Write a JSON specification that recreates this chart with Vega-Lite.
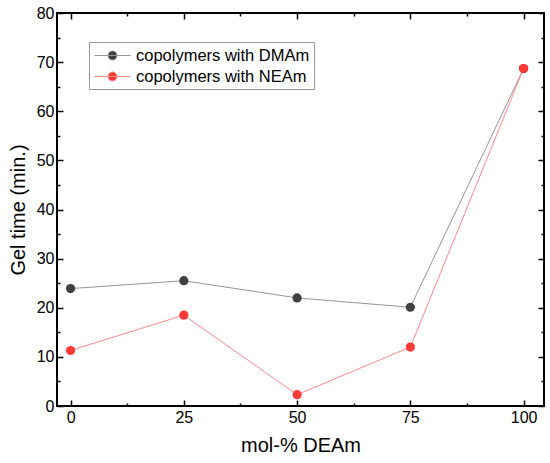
{
  "$schema": "https://vega.github.io/schema/vega-lite/v6.json",
  "description": "Gel time vs mol-% DEAm for copolymers with DMAm and NEAm",
  "width": 487,
  "height": 393,
  "autosize": "none",
  "padding": {"left": 57, "top": 13, "right": 6, "bottom": 57},
  "background": "white",
  "data": {
    "values": [
      {"mol": 0, "gel": 23.9, "series": "copolymers with DMAm"},
      {"mol": 25, "gel": 25.5, "series": "copolymers with DMAm"},
      {"mol": 50, "gel": 22.0, "series": "copolymers with DMAm"},
      {"mol": 75, "gel": 20.1, "series": "copolymers with DMAm"},
      {"mol": 100, "gel": 68.7, "series": "copolymers with DMAm"},
      {"mol": 0, "gel": 11.3, "series": "copolymers with NEAm"},
      {"mol": 25, "gel": 18.5, "series": "copolymers with NEAm"},
      {"mol": 50, "gel": 2.3, "series": "copolymers with NEAm"},
      {"mol": 75, "gel": 12.0, "series": "copolymers with NEAm"},
      {"mol": 100, "gel": 68.7, "series": "copolymers with NEAm"}
    ]
  },
  "layer": [
    {
      "mark": {"type": "line", "strokeWidth": 1},
      "encoding": {
        "x": {
          "field": "mol", "type": "quantitative",
          "scale": {"domain": [-3, 104.5], "nice": false, "zero": false},
          "axis": {"orient": "bottom", "values": [0, 25, 50, 75, 100], "tickSize": -6, "labelPadding": 9, "titlePadding": 10, "title": "mol-% DEAm"}
        },
        "y": {
          "field": "gel", "type": "quantitative",
          "scale": {"domain": [0, 80], "nice": false},
          "axis": {"orient": "left", "values": [0, 10, 20, 30, 40, 50, 60, 70, 80], "tickSize": -6, "labelPadding": 9, "titlePadding": 8, "title": "Gel time (min.)"}
        },
        "stroke": {
          "field": "series", "type": "nominal",
          "scale": {"domain": ["copolymers with DMAm", "copolymers with NEAm"], "range": ["#959595", "#ff8a8a"]},
          "legend": {
            "title": null, "orient": "none", "legendX": 32, "legendY": 29,
            "symbolType": "M-2,0H2M-0.5,0A0.5,0.5,0,1,1,0.5,0A0.5,0.5,0,1,1,-0.5,0Z",
            "symbolSize": 324, "symbolStrokeWidth": 1, "symbolOffset": 10,
            "labelFont": "Liberation Sans", "labelFontSize": 16.5, "labelLimit": 300, "labelOffset": 14,
            "strokeColor": "#999999", "fillColor": "white", "padding": 4, "rowPadding": 3
          }
        }
      }
    },
    {
      "mark": {"type": "point", "filled": true, "size": 85, "opacity": 1},
      "encoding": {
        "x": {
          "field": "mol", "type": "quantitative",
          "axis": {"orient": "top", "values": [0, 25, 50, 75, 100], "tickSize": -6, "labels": false, "title": null}
        },
        "y": {
          "field": "gel", "type": "quantitative",
          "axis": {"orient": "right", "values": [0, 10, 20, 30, 40, 50, 60, 70, 80], "tickSize": -6, "labels": false, "title": null}
        },
        "fill": {
          "field": "series", "type": "nominal",
          "scale": {"domain": ["copolymers with DMAm", "copolymers with NEAm"], "range": ["#404040", "#ff3838"]},
          "legend": {
            "title": null, "orient": "none", "legendX": 32, "legendY": 29,
            "symbolType": "M-2,0H2M-0.5,0A0.5,0.5,0,1,1,0.5,0A0.5,0.5,0,1,1,-0.5,0Z",
            "symbolSize": 324, "symbolStrokeWidth": 1, "symbolOffset": 10,
            "labelFont": "Liberation Sans", "labelFontSize": 16.5, "labelLimit": 300, "labelOffset": 14,
            "strokeColor": "#999999", "fillColor": "white", "padding": 4, "rowPadding": 3
          }
        }
      }
    },
    {
      "mark": {"type": "point", "opacity": 0},
      "encoding": {
        "x": {
          "field": "mol", "type": "quantitative",
          "axis": {"orient": "bottom", "values": [12.5, 37.5, 62.5, 87.5], "tickSize": -3, "labels": false, "title": null}
        },
        "y": {
          "field": "gel", "type": "quantitative",
          "axis": {"orient": "left", "values": [5, 15, 25, 35, 45, 55, 65, 75], "tickSize": -3, "labels": false, "title": null}
        }
      }
    },
    {
      "mark": {"type": "point", "opacity": 0},
      "encoding": {
        "x": {
          "field": "mol", "type": "quantitative",
          "axis": {"orient": "top", "values": [12.5, 37.5, 62.5, 87.5], "tickSize": -3, "labels": false, "title": null}
        },
        "y": {
          "field": "gel", "type": "quantitative",
          "axis": {"orient": "right", "values": [5, 15, 25, 35, 45, 55, 65, 75], "tickSize": -3, "labels": false, "title": null}
        }
      }
    }
  ],
  "resolve": {"axis": {"x": "independent", "y": "independent"}},
  "config": {
    "view": {"stroke": "black", "strokeWidth": 2},
    "axis": {
      "grid": false, "domain": false,
      "tickColor": "black", "tickWidth": 1.5,
      "labelFont": "Liberation Sans", "labelFontSize": 16, "labelColor": "black",
      "titleFont": "Liberation Sans", "titleFontSize": 20, "titleFontWeight": "normal", "titleColor": "black"
    }
  }
}
